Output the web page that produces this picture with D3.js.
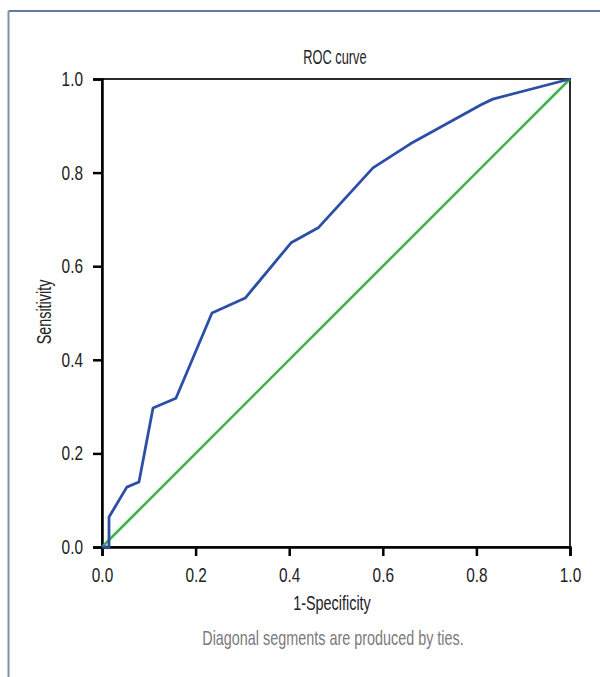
<!DOCTYPE html>
<html>
<head>
<meta charset="utf-8">
<script src="https://cdn.jsdelivr.net/npm/d3@7"></script>
<style>
  body { margin: 0; background: #fff; }
  text { font-family: "Liberation Sans", Arial, sans-serif; }
</style>
</head>
<body>
<div class="chart"></div>
<script>
// ROC curve points
const fpr = [0, 0.015, 0.015, 0.053, 0.079, 0.109, 0.158, 0.235, 0.306, 0.404, 0.462, 0.579, 0.658, 0.81, 0.835, 1];
const tpr = [0, 0, 0.064, 0.128, 0.139, 0.297, 0.318, 0.5, 0.532, 0.65, 0.682, 0.81, 0.861, 0.945, 0.957, 1];
const refLine = [0, 1];
const ticks = [0, 0.2, 0.4, 0.6, 0.8, 1.0];

const W = 600, H = 677;
const margin = { top: 79, left: 102 };
const size = 468;
const narrow = 0.72; // fake a condensed face

// squeeze text horizontally, keeping its anchor point
function squeeze(sel, k) {
  sel.each(function() {
    var t = d3.select(this);
    var xv = +t.attr("x") || 0;
    t.attr("x", xv / k).attr("transform", "scale(" + k + ",1)");
  });
}

var svg = d3.select(".chart").append("svg")
  .attr("width", W)
  .attr("height", H);

// outer frame
svg.append("line").attr("x1", 8.5).attr("x2", W).attr("y1", 11).attr("y2", 11)
  .attr("stroke", "#2f4f86").attr("stroke-width", 1.5);
svg.append("line").attr("x1", 8.5).attr("x2", 8.5).attr("y1", 11).attr("y2", 677)
  .attr("stroke", "#7f8fb0").attr("stroke-width", 2);

var g = svg.append("g")
  .attr("transform", "translate(" + margin.left + "," + margin.top + ")");

var x = d3.scaleLinear().domain([0, 1]).range([0, size]);
var y = d3.scaleLinear().domain([0, 1]).range([size, 0]);

// box
g.append("rect")
  .attr("width", size).attr("height", size)
  .attr("fill", "none").attr("stroke", "#2a2a2a").attr("stroke-width", 2);

var xAxis = g.append("g")
  .attr("transform", "translate(0," + size + ")")
  .call(d3.axisBottom(x).tickValues(ticks).tickFormat(d3.format(".1f")).tickSize(9).tickPadding(12));
var yAxis = g.append("g")
  .call(d3.axisLeft(y).tickValues(ticks).tickFormat(d3.format(".1f")).tickSize(9).tickPadding(10));

[xAxis, yAxis].forEach(function(a) {
  a.select(".domain").attr("stroke", "#000").attr("stroke-width", 2.5);
  a.selectAll(".tick line").attr("stroke", "#000").attr("stroke-width", 2.5);
  a.selectAll(".tick text").attr("font-size", 20).attr("fill", "#222")
    .style("font-family", "'Liberation Sans', Arial, sans-serif");
  squeeze(a.selectAll(".tick text"), 0.77);
});

// reference diagonal
g.append("line")
  .attr("x1", x(refLine[0])).attr("y1", y(refLine[0]))
  .attr("x2", x(refLine[1])).attr("y2", y(refLine[1]))
  .attr("stroke", "#3db54a").attr("stroke-width", 2.6);

var line = d3.line()
  .x(function(d, i) { return x(fpr[i]); })
  .y(function(d, i) { return y(tpr[i]); });

g.append("path")
  .datum(fpr)
  .attr("d", line)
  .attr("fill", "none")
  .attr("stroke", "#2c4fa6")
  .attr("stroke-width", 2.8)
  .attr("stroke-linejoin", "round");

// texts
function label(tf, txt, col, k) {
  return svg.append("text")
    .attr("transform", tf + " scale(" + k + ",1)")
    .attr("text-anchor", "middle")
    .attr("font-size", 20)
    .attr("fill", col)
    .text(txt);
}
label("translate(335,64)", "ROC curve", "#222", 0.64);
label("translate(332,610)", "1-Specificity", "#222", narrow);
label("translate(51,312) rotate(-90)", "Sensitivity", "#222", narrow);
label("translate(333,645)", "Diagonal segments are produced by ties.", "#7a7a7a", narrow);
</script>
</body>
</html>
